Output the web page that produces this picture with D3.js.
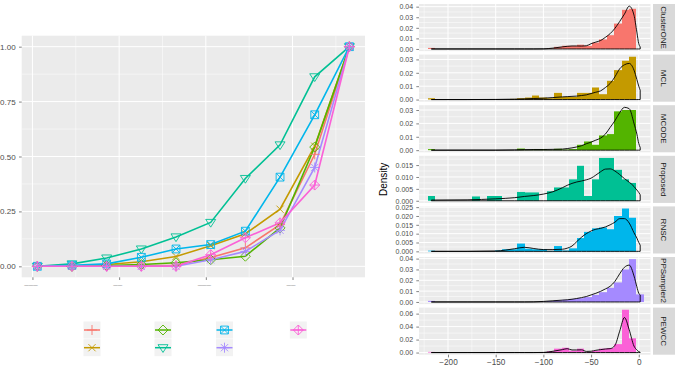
<!DOCTYPE html>
<html>
<head>
<meta charset="utf-8">
<script src="https://cdn.jsdelivr.net/npm/d3@7"></script>
<style>
    body { margin: 0; background: #fff; }
    svg { display: block; font-family: "Liberation Sans", Arial, sans-serif; }
</style>
</head>
<body>
<div class="container"></div>
<script>
/**DATA */

const methods = ["ClusterONE", "MCL", "MCODE", "Proposed", "RNSC", "PPSampler2", "PEWCC"];
const colors = ["#F8766D", "#C49A00", "#53B400", "#00C094", "#00B6EB", "#A58AFF", "#FB61D7"];
const shapes = ["plus", "cross", "diamond", "triangleDown", "squareCross", "asterisk", "diamondPlus"];

// left chart: cumulative ratio per step
const steps = [1, 2, 3, 4, 5, 6, 7, 8, 9, 10];
const stepTicks = [0.86, 3.36, 5.86, 8.36];
const stepTickLabels = ["–––", "––", "–––", "––"];
const ratioTicks = [0, 0.25, 0.5, 0.75, 1];

const clusterOneRatio = [0, 0, 0, 0.002, 0.005, 0.04, 0.084, 0.19, 0.51, 1];
const mclRatio = [0, 0, 0.008, 0.021, 0.045, 0.094, 0.148, 0.26, 0.547, 1];
const mcodeRatio = [0, 0, 0.003, 0.008, 0.016, 0.03, 0.046, 0.175, 0.543, 1];
const proposedRatio = [0, 0.011, 0.038, 0.079, 0.134, 0.2, 0.4, 0.553, 0.863, 1];
const rnscRatio = [0, 0.005, 0.011, 0.041, 0.079, 0.099, 0.16, 0.406, 0.69, 1];
const ppsRatio = [0, 0, 0, 0, 0, 0.03, 0.068, 0.164, 0.45, 1];
const pewccRatio = [0, 0, 0, 0, 0, 0.053, 0.13, 0.198, 0.37, 1];

// right chart: histogram densities (29 bins) and density curves
const binStart = -221.4;
const binWidth = 7.82;

const clusterOneHist = [0.001, 0, 0, 0, 0, 0, 0, 0, 0, 0, 0, 0, 0, 0, 0, 0, 0.0005, 0.002, 0.003, 0.003, 0.004, 0.003, 0.006, 0.009, 0.013, 0.024, 0.037, 0.038, 0];
const mclHist = [0.001, 0, 0, 0, 0, 0, 0, 0, 0, 0, 0, 0.0005, 0.001, 0.0015, 0.003, 0.0015, 0.001, 0.005, 0.002, 0.002, 0.005, 0.005, 0.009, 0.004, 0.014, 0.022, 0.029, 0.032, 0];
const mcodeHist = [0.0008, 0, 0, 0, 0, 0, 0, 0, 0, 0, 0, 0, 0.0012, 0.0003, 0.0008, 0.0008, 0.0003, 0.001, 0.0005, 0.0008, 0.004, 0.0065, 0.004, 0.011, 0.012, 0.029, 0.03, 0.03, 0];
const proposedHist = [0.002, 0, 0, 0, 0, 0, 0.0018, 0, 0.002, 0.002, 0, 0, 0.0037, 0.0035, 0.0035, 0, 0.004, 0.0056, 0.0056, 0.009, 0.0147, 0.002, 0.009, 0.018, 0.018, 0.013, 0.009, 0.0075, 0];
const rnscHist = [0.0004, 0, 0, 0, 0, 0, 0, 0, 0, 0.0005, 0.0012, 0.0012, 0.0044, 0.0015, 0.0012, 0.0012, 0.0003, 0.003, 0.0005, 0.0017, 0.0075, 0.011, 0.013, 0.0135, 0.0125, 0.02, 0.0242, 0.019, 0];
const ppsHist = [0.001, 0, 0, 0, 0, 0, 0, 0, 0, 0, 0, 0, 0, 0, 0, 0.0003, 0.0008, 0.0015, 0.002, 0.0028, 0.0035, 0.0045, 0.0065, 0.009, 0.013, 0.018, 0.03, 0.0395, 0.007];
const pewccHist = [0.001, 0, 0, 0, 0, 0, 0, 0, 0, 0, 0, 0, 0, 0, 0, 0.0005, 0.002, 0.006, 0.0074, 0.003, 0.006, 0.001, 0.003, 0.006, 0.007, 0.013, 0.066, 0.022, 0];

const densityX = [-217.5, -180, -150, -130, -120, -110, -100, -90, -80, -75, -70, -65, -60, -55, -50, -45, -40, -35, -30, -25, -20, -15, -10, -5, -2, 0, 1.5];

const clusterOneCurve = [0, 0, 0, 0, 0, 0, 0.0001, 0.0008, 0.002, 0.0025, 0.0028, 0.0028, 0.0027, 0.003, 0.005, 0.0065, 0.008, 0.011, 0.0145, 0.0195, 0.026, 0.033, 0.0405, 0.032, 0.016, 0.005, 0.002];
const mclCurve = [0, 0, 0.0001, 0.0003, 0.0005, 0.0008, 0.001, 0.0015, 0.002, 0.0022, 0.0024, 0.0026, 0.003, 0.0035, 0.0045, 0.0055, 0.0065, 0.009, 0.012, 0.017, 0.023, 0.026, 0.027, 0.022, 0.015, 0.01, 0.007];
const mcodeCurve = [0, 0, 0, 0.0002, 0.0004, 0.0005, 0.0005, 0.0006, 0.0008, 0.0012, 0.0017, 0.0024, 0.0033, 0.0048, 0.006, 0.0075, 0.009, 0.012, 0.017, 0.022, 0.028, 0.032, 0.031, 0.02, 0.012, 0.005, 0.002];
const proposedCurve = [0.0003, 0.0004, 0.0008, 0.0013, 0.0018, 0.0022, 0.0028, 0.0038, 0.0055, 0.0065, 0.0073, 0.0079, 0.0083, 0.0088, 0.0095, 0.0108, 0.0122, 0.0133, 0.0134, 0.0125, 0.011, 0.0093, 0.0078, 0.006, 0.0045, 0.0035, 0.0025];
const rnscCurve = [0, 0, 0.0002, 0.0015, 0.0023, 0.0016, 0.001, 0.001, 0.0012, 0.0018, 0.003, 0.0055, 0.008, 0.01, 0.0115, 0.0125, 0.013, 0.0138, 0.015, 0.0165, 0.0185, 0.0185, 0.016, 0.0105, 0.0075, 0.005, 0.0035];
const ppsCurve = [0, 0, 0, 0, 0, 0.0001, 0.0005, 0.0011, 0.0017, 0.002, 0.0025, 0.0032, 0.004, 0.005, 0.0065, 0.008, 0.0098, 0.012, 0.0145, 0.019, 0.026, 0.032, 0.034, 0.024, 0.014, 0.008, 0.0065];
const pewccCurve = [0, 0, 0, 0, 0, 0, 0.0002, 0.002, 0.0045, 0.006, 0.004, 0.004, 0.0042, 0.0018, 0.002, 0.0035, 0.0045, 0.0055, 0.006, 0.011, 0.033, 0.054, 0.035, 0.01, 0.004, 0.0015, 0.0005];

const densityTicks = [
    [0, 0.01, 0.02, 0.03, 0.04],
    [0, 0.01, 0.02, 0.03],
    [0, 0.01, 0.02, 0.03],
    [0, 0.005, 0.01, 0.015],
    [0, 0.005, 0.01, 0.015, 0.02, 0.025],
    [0, 0.01, 0.02, 0.03, 0.04],
    [0, 0.02, 0.04, 0.06]
];
const scoreTicks = [-200, -150, -100, -50, 0];

const ratios = [clusterOneRatio, mclRatio, mcodeRatio, proposedRatio, rnscRatio, ppsRatio, pewccRatio];
const hists = [clusterOneHist, mclHist, mcodeHist, proposedHist, rnscHist, ppsHist, pewccHist];
const curves = [clusterOneCurve, mclCurve, mcodeCurve, proposedCurve, rnscCurve, ppsCurve, pewccCurve];

/**SETUP */

const svg = d3.select(".container")
    .append("svg")
    .attr("width", 675)
    .attr("height", 383);

const panelFill = "#EBEBEB";
const labelColor = "#4D4D4D";
const tickColor = "#333333";

// open ggplot-like point shapes
function shapePath(type, r) {
    const p = d3.path();
    const d = r * 0.72;
    const plus = () => { p.moveTo(-r, 0); p.lineTo(r, 0); p.moveTo(0, -r); p.lineTo(0, r); };
    const cross = () => { p.moveTo(-d, -d); p.lineTo(d, d); p.moveTo(-d, d); p.lineTo(d, -d); };
    const diamond = () => { p.moveTo(0, -r); p.lineTo(r, 0); p.lineTo(0, r); p.lineTo(-r, 0); p.closePath(); };
    if (type === "plus") plus();
    if (type === "cross") cross();
    if (type === "diamond") diamond();
    if (type === "triangleDown") {
        p.moveTo(-r, -r * 0.6); p.lineTo(r, -r * 0.6); p.lineTo(0, r * 0.95); p.closePath();
    }
    if (type === "squareCross") {
        const s = r * 0.78;
        p.rect(-s, -s, 2 * s, 2 * s);
        p.moveTo(-s, -s); p.lineTo(s, s); p.moveTo(-s, s); p.lineTo(s, -s);
    }
    if (type === "asterisk") { plus(); cross(); }
    if (type === "diamondPlus") { diamond(); plus(); }
    return p.toString();
}

function styleAxis(g, size) {
    g.select(".domain").remove();
    g.selectAll(".tick line").attr("stroke", tickColor).attr("stroke-width", 0.6);
    g.selectAll(".tick text")
        .attr("fill", labelColor)
        .style("font-size", size + "px");
}

/**LEFT CHART: LINES AND POINTS */

const left = { x0: 21.7, x1: 365, y0: 35.7, y1: 277.3 };

const xStep = d3.scaleLinear()
    .domain([0.55, 10.45])
    .range([left.x0, left.x1]);

const yRatio = d3.scaleLinear()
    .domain([-0.05, 1.05])
    .range([left.y1, left.y0]);

const leftCanvas = svg.append("g");

leftCanvas
    .append("rect")
    .attr("x", left.x0)
    .attr("y", left.y0)
    .attr("width", left.x1 - left.x0)
    .attr("height", left.y1 - left.y0)
    .attr("fill", panelFill);

const leftMinorY = ratioTicks.slice(1).map(t => t - 0.125);
const leftMinorX = stepTicks.map(t => t + 1.25).filter(t => t < 10.45);

leftCanvas.selectAll(".minor-y")
    .data(leftMinorY)
    .enter()
    .append("line")
    .attr("x1", left.x0).attr("x2", left.x1)
    .attr("y1", d => yRatio(d)).attr("y2", d => yRatio(d))
    .attr("stroke", "#fff").attr("stroke-width", 0.5);

leftCanvas.selectAll(".minor-x")
    .data(leftMinorX)
    .enter()
    .append("line")
    .attr("y1", left.y0).attr("y2", left.y1)
    .attr("x1", d => xStep(d)).attr("x2", d => xStep(d))
    .attr("stroke", "#fff").attr("stroke-width", 0.5);

leftCanvas.selectAll(".major-y")
    .data(ratioTicks)
    .enter()
    .append("line")
    .attr("x1", left.x0).attr("x2", left.x1)
    .attr("y1", d => yRatio(d)).attr("y2", d => yRatio(d))
    .attr("stroke", "#fff").attr("stroke-width", 1);

leftCanvas.selectAll(".major-x")
    .data(stepTicks)
    .enter()
    .append("line")
    .attr("y1", left.y0).attr("y2", left.y1)
    .attr("x1", d => xStep(d)).attr("x2", d => xStep(d))
    .attr("stroke", "#fff").attr("stroke-width", 1);

const line = d3.line()
    .x((d, i) => xStep(steps[i]))
    .y(d => yRatio(d));

leftCanvas.selectAll(".series")
    .data(ratios)
    .enter()
    .append("path")
    .attr("d", d => line(d))
    .attr("fill", "none")
    .attr("stroke", (d, i) => colors[i])
    .attr("stroke-width", 1.6);

ratios.forEach((series, k) => {
    leftCanvas.selectAll(".pt" + k)
        .data(series)
        .enter()
        .append("path")
        .attr("transform", (d, i) => `translate(${xStep(steps[i])}, ${yRatio(d)})`)
        .attr("d", shapePath(shapes[k], 5))
        .attr("fill", "none")
        .attr("stroke", colors[k])
        .attr("stroke-width", 0.9);
});

leftCanvas
    .append("g")
    .attr("transform", `translate(${left.x0}, 0)`)
    .call(d3.axisLeft(yRatio).tickValues(ratioTicks).tickFormat(d3.format(".2f")).tickSize(2.7).tickPadding(3.3))
    .call(g => styleAxis(g, 8));

leftCanvas
    .append("g")
    .attr("transform", `translate(0, ${left.y1})`)
    .call(d3.axisBottom(xStep).tickValues(stepTicks).tickFormat((d, i) => stepTickLabels[i]).tickSize(2.7).tickPadding(1.5))
    .call(g => styleAxis(g, 8))
    .call(g => g.selectAll(".tick text").attr("fill", "#9a9a9a").attr("dx", -2));

// legend keys (labels are blank in the reference)
const legendColumns = [92, 163, 224.5, 298.3];
const legendRows = [330, 347.7];
const keySize = 17;

const legend = leftCanvas.selectAll(".key")
    .data(methods)
    .enter()
    .append("g")
    .attr("transform", (d, i) => `translate(${legendColumns[Math.floor(i / 2)]}, ${legendRows[i % 2]})`);

legend.append("rect")
    .attr("x", -keySize / 2).attr("y", -keySize / 2)
    .attr("width", keySize).attr("height", keySize)
    .attr("fill", "#F2F2F2");

legend.append("line")
    .attr("x1", -keySize / 2 + 0.5).attr("x2", keySize / 2 - 0.5)
    .attr("stroke", (d, i) => colors[i])
    .attr("stroke-width", 1.5);

legend.append("path")
    .attr("d", (d, i) => shapePath(shapes[i], 5))
    .attr("fill", "none")
    .attr("stroke", (d, i) => colors[i])
    .attr("stroke-width", 0.9);

/**RIGHT CHART: FACETED HISTOGRAMS */

const right = { x0: 419, x1: 650.5, top: 4, panelHeight: 47.1, step: 50.6 };

const xScore = d3.scaleLinear()
    .domain([-230.4, 12.3])
    .range([right.x0, right.x1]);

// bin edges snapped to whole pixels so neighbouring bars leave no seams
const binEdge = j => Math.round(xScore(binStart + j * binWidth));

const scoreMinor = scoreTicks.map(t => t - 25);

methods.forEach((method, i) => {
    const y0 = right.top + i * right.step;
    const y1 = y0 + right.panelHeight;
    const hist = hists[i];
    const curve = curves[i];
    const maxDensity = Math.max(d3.max(hist), d3.max(curve));

    const yDensity = d3.scaleLinear()
        .domain([-0.05 * maxDensity, 1.05 * maxDensity])
        .range([y1, y0]);

    const ticks = densityTicks[i];
    const step = ticks[1] - ticks[0];
    const minor = ticks.map(t => t + step / 2).filter(t => t < 1.05 * maxDensity);

    const facet = svg.append("g");

    facet.append("rect")
        .attr("x", right.x0).attr("y", y0)
        .attr("width", right.x1 - right.x0).attr("height", right.panelHeight)
        .attr("fill", panelFill);

    facet.selectAll(".minor-y")
        .data(minor)
        .enter()
        .append("line")
        .attr("x1", right.x0).attr("x2", right.x1)
        .attr("y1", d => yDensity(d)).attr("y2", d => yDensity(d))
        .attr("stroke", "#fff").attr("stroke-width", 0.5);

    facet.selectAll(".minor-x")
        .data(scoreMinor)
        .enter()
        .append("line")
        .attr("y1", y0).attr("y2", y1)
        .attr("x1", d => xScore(d)).attr("x2", d => xScore(d))
        .attr("stroke", "#fff").attr("stroke-width", 0.5);

    facet.selectAll(".major-y")
        .data(ticks)
        .enter()
        .append("line")
        .attr("x1", right.x0).attr("x2", right.x1)
        .attr("y1", d => yDensity(d)).attr("y2", d => yDensity(d))
        .attr("stroke", "#fff").attr("stroke-width", 1);

    facet.selectAll(".major-x")
        .data(scoreTicks)
        .enter()
        .append("line")
        .attr("y1", y0).attr("y2", y1)
        .attr("x1", d => xScore(d)).attr("x2", d => xScore(d))
        .attr("stroke", "#fff").attr("stroke-width", 1);

    // histogram bars
    facet.selectAll(".bar")
        .data(hist.map((v, j) => ({ j, v })).filter(d => d.v > 0))
        .enter()
        .append("rect")
        .attr("x", d => binEdge(d.j))
        .attr("width", d => binEdge(d.j + 1) - binEdge(d.j))
        .attr("y", d => yDensity(d.v))
        .attr("height", d => yDensity(0) - yDensity(d.v))
        .attr("fill", colors[i]);

    // density outline
    const area = d3.area()
        .x((d, k) => xScore(densityX[k]))
        .y0(yDensity(0))
        .y1(d => yDensity(d))
        .curve(d3.curveMonotoneX);

    facet.append("path")
        .attr("d", area(curve))
        .attr("fill", "none")
        .attr("stroke", "#000")
        .attr("stroke-width", 0.9);

    facet.append("g")
        .attr("transform", `translate(${right.x0}, 0)`)
        .call(d3.axisLeft(yDensity)
            .tickValues(ticks)
            .tickFormat(d3.format(step < 0.01 ? ".3f" : ".2f"))
            .tickSize(2.7)
            .tickPadding(3.2))
        .call(g => styleAxis(g, 7));

    // strip
    facet.append("rect")
        .attr("x", 653).attr("y", y0)
        .attr("width", 24).attr("height", right.panelHeight)
        .attr("fill", "#D9D9D9");

    facet.append("text")
        .attr("transform", `translate(663.5, ${(y0 + y1) / 2}) rotate(90)`)
        .attr("text-anchor", "middle")
        .attr("dominant-baseline", "central")
        .attr("fill", "#1A1A1A")
        .style("font-size", "8px")
        .text(method);

    if (i === methods.length - 1) {
        facet.append("g")
            .attr("transform", `translate(0, ${y1})`)
            .call(d3.axisBottom(xScore).tickValues(scoreTicks).tickSize(2.7).tickPadding(2.2))
            .call(g => styleAxis(g, 8.2));
    }
});

svg.append("text")
    .attr("transform", `translate(386.5, ${(right.top + right.top + 6 * right.step + right.panelHeight) / 2}) rotate(-90)`)
    .attr("text-anchor", "middle")
    .attr("fill", "#000")
    .style("font-size", "10px")
    .text("Density");
</script>
</body>
</html>
